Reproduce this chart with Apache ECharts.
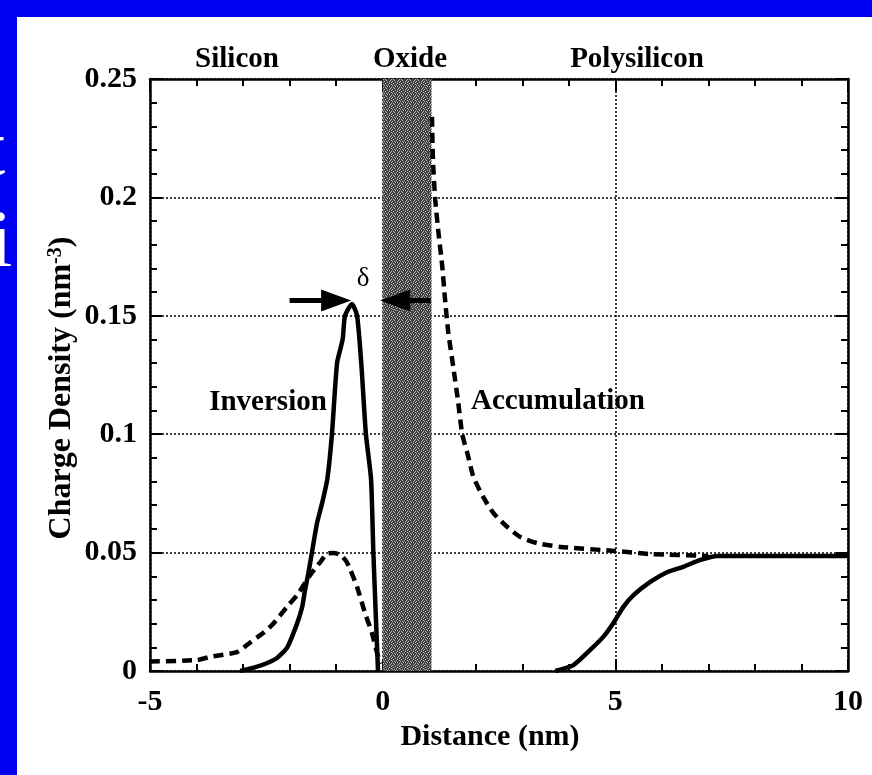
<!DOCTYPE html>
<html>
<head>
<meta charset="utf-8">
<script src="https://cdn.jsdelivr.net/npm/echarts@6/dist/echarts.min.js"></script>
<style>
  html, body { margin: 0; padding: 0; background: #fff; }
  #chart { width: 872px; height: 775px; }
</style>
</head>
<body>
<div id="chart"></div>
<script>
// silicon side, dashed curve
const siX = [-5, -4, -3.7, -3.13, -2.85, -2.57, -2.35, -2.06, -1.84, -1.56, -1.34, -1.2, -1.06, -0.9, -0.76, -0.55, -0.38, -0.23, -0.12, -0.05];
const siY = [0.004, 0.0046, 0.006, 0.008, 0.012, 0.016, 0.02, 0.027, 0.032, 0.0405, 0.046, 0.0495, 0.0498, 0.049, 0.0456, 0.0355, 0.0245, 0.016, 0.0076, 0.003];
// inversion layer, solid curve
const invX = [-3.06, -2.75, -2.48, -2.27, -2.05, -1.84, -1.73, -1.67, -1.6, -1.52, -1.41, -1.3, -1.19, -1.09, -0.98, -0.86, -0.81, -0.66, -0.55, -0.46, -0.36, -0.25, -0.2, -0.1];
const invY = [0, 0.0015, 0.0034, 0.0055, 0.010, 0.02, 0.027, 0.034, 0.041, 0.05, 0.0625, 0.071, 0.081, 0.1, 0.13, 0.14, 0.15, 0.155, 0.15, 0.13, 0.1, 0.081, 0.05, 0];
// polysilicon accumulation, dashed curve
const accX = [1.06, 1.08, 1.13, 1.2, 1.28, 1.34, 1.41, 1.52, 1.62, 1.71, 1.82, 1.95, 2.16, 2.38, 2.68, 2.96, 3.32, 3.82, 5, 5.75, 7];
const accY = [0.234, 0.216, 0.199, 0.185, 0.171, 0.157, 0.143, 0.128, 0.114, 0.1, 0.092, 0.082, 0.0735, 0.0667, 0.0608, 0.0566, 0.054, 0.0524, 0.0507, 0.0494, 0.0486];
// polysilicon depletion, solid curve
const polyX = [3.71, 4.1, 4.46, 4.74, 4.96, 5.17, 5.39, 5.75, 6.12, 6.46, 6.83, 7.19, 10];
const polyY = [0, 0.0025, 0.0089, 0.0144, 0.0203, 0.027, 0.032, 0.0376, 0.0418, 0.044, 0.0469, 0.0486, 0.0486];

const oxide = [0, 1.05];
// arrow ends sit at the middle of the head
const arrowRight = [[-2.0, 0.1565], [-1.0, 0.1565]];
const arrowLeft = [[1.03, 0.1565], [0.27, 0.1565]];

const xTicks = { min: -5, max: 10, interval: 5 };
const yTicks = { min: 0, max: 0.25, interval: 0.05 };

const FONT = "Liberation Serif";
const BLUE = "#0000f0";
const pairs = (xs, ys) => xs.map((x, i) => [x, ys[i]]);

// fixed stipple for the oxide band (x = light speck)
const STIPPLE = [
  "..x...x.",
  "x....x..",
  "...x...x",
  ".x...x..",
  "....x..x",
  "x.x.....",
  "...x.x..",
  ".x.....x"
];
function oxidePattern() {
  const c = document.createElement("canvas");
  c.width = c.height = 8;
  const ctx = c.getContext("2d");
  ctx.fillStyle = "#444";
  ctx.fillRect(0, 0, 8, 8);
  ctx.fillStyle = "#b0b0b0";
  STIPPLE.forEach((row, y) => {
    for (let x = 0; x < row.length; x++) {
      if (row[x] === "x") ctx.fillRect(x, y, 1, 1);
    }
  });
  return c;
}

const myChart = echarts.init(document.getElementById("chart"), null, { renderer: "canvas" });

const axisBase = {
  type: "value",
  axisLine: { show: true, onZero: false, lineStyle: { color: "#000", width: 2.5 } },
  axisTick: { show: true, inside: true, length: 12, lineStyle: { color: "#000", width: 2 } },
  minorTick: { show: true, inside: true, splitNumber: 5, length: 7, lineStyle: { color: "#000", width: 2 } },
  axisLabel: { color: "#000", fontFamily: FONT, fontWeight: "bold", fontSize: 30 },
  splitLine: { show: true, lineStyle: { color: "#000", type: [2, 2], width: 1.5 } }
};

const curve = (xs, ys, dashed) => ({
  type: "line",
  data: pairs(xs, ys),
  showSymbol: false,
  smooth: 0.2,
  lineStyle: { color: "#000", width: 4.5, type: dashed ? [10, 6] : "solid" },
  z: 5
});

const label = (text, x, y, size, weight) => ({
  type: "text",
  x: x,
  y: y,
  style: {
    text: text,
    fill: "#000",
    font: (weight || "bold") + " " + (size || 29) + "px '" + FONT + "'",
    textAlign: "center",
    textVerticalAlign: "middle"
  },
  z: 100
});

myChart.setOption({
  animation: false,
  backgroundColor: "#fff",
  grid: { left: 150, top: 79, right: 24, bottom: 104, outerBoundsMode: "none" },
  xAxis: [
    Object.assign({}, axisBase, xTicks, {
      position: "bottom",
      axisLabel: Object.assign({}, axisBase.axisLabel, { margin: 16 })
    }),
    Object.assign({}, axisBase, xTicks, {
      position: "top",
      axisLabel: { show: false },
      splitLine: { show: false }
    })
  ],
  yAxis: [
    Object.assign({}, axisBase, yTicks, {
      position: "left",
      axisLabel: Object.assign({}, axisBase.axisLabel, { margin: 13 })
    }),
    Object.assign({}, axisBase, yTicks, {
      position: "right",
      axisLabel: { show: false },
      splitLine: { show: false }
    })
  ],
  series: [
    {
      type: "line",
      data: [],
      markArea: {
        silent: true,
        itemStyle: { color: { image: oxidePattern(), repeat: "repeat" } },
        data: [[{ xAxis: oxide[0] }, { xAxis: oxide[1] }]]
      }
    },
    curve(siX, siY, true),
    curve(invX, invY, false),
    curve(accX, accY, true),
    curve(polyX, polyY, false),
    {
      type: "line",
      data: [],
      markLine: {
        silent: true,
        symbol: ["none", "triangle"],
        symbolSize: [22, 30],
        label: { show: false },
        lineStyle: { color: "#000", width: 5, type: "solid" },
        data: [
          [{ coord: arrowRight[0] }, { coord: arrowRight[1] }],
          [{ coord: arrowLeft[0] }, { coord: arrowLeft[1] }]
        ]
      },
      z: 6
    }
  ],
  graphic: [
    { type: "rect", shape: { x: 0, y: 0, width: 872, height: 17 }, style: { fill: BLUE }, z: 50 },
    { type: "rect", shape: { x: 0, y: 0, width: 17, height: 775 }, style: { fill: BLUE }, z: 50 },
    {
      type: "text", x: -10, y: 285,
      style: { text: "i.", fill: "#fff", font: "80px '" + FONT + "'", textVerticalAlign: "bottom" },
      z: 60
    },
    {
      type: "text", x: -17, y: 193,
      style: { text: "t", fill: "#fff", font: "80px '" + FONT + "'", textVerticalAlign: "bottom" },
      z: 60
    },
    label("Silicon", 237, 60),
    label("Oxide", 410, 60),
    label("Polysilicon", 637, 60),
    label("Inversion", 268, 403),
    label("Accumulation", 558, 402),
    label("δ", 363, 279, 27, "normal"),
    label("Distance (nm)", 490, 737, 30),
    {
      type: "text",
      x: 62,
      y: 388,
      rotation: Math.PI / 2,
      style: {
        text: "{a|Charge Density (nm}{s|-3}{a|)}",
        textAlign: "center",
        textVerticalAlign: "middle",
        rich: {
          a: { fontFamily: FONT, fontWeight: "bold", fontSize: 32, fill: "#000", color: "#000" },
          s: { fontFamily: FONT, fontWeight: "bold", fontSize: 20, fill: "#000", color: "#000", verticalAlign: "top" }
        }
      },
      z: 100
    }
  ]
});
</script>
</body>
</html>
